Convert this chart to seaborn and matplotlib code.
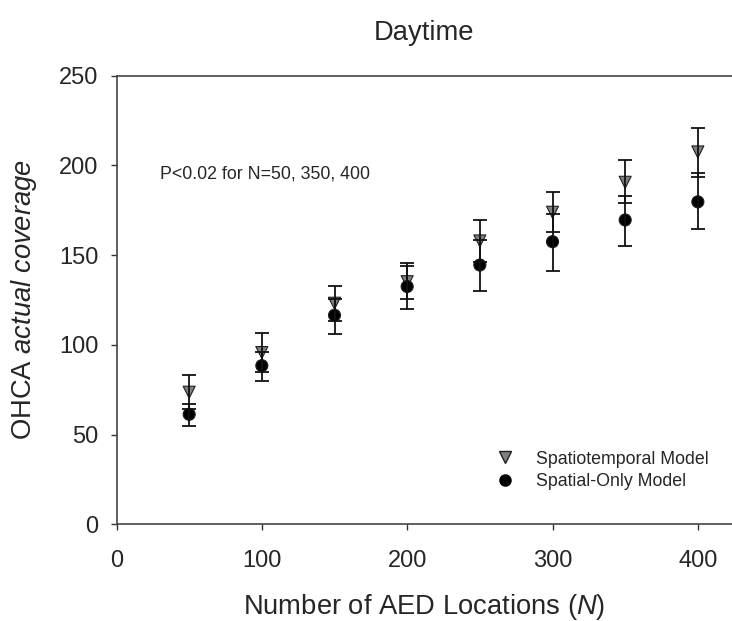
import numpy as np
import pandas as pd
import matplotlib
matplotlib.use("Agg")
import matplotlib.pyplot as plt
import seaborn as sns
from matplotlib.lines import Line2D

# ---- data ----
n_locations = [50, 100, 150, 200, 250, 300, 350, 400]
st_mean = [73.6, 95.7, 123.2, 135.2, 157.9, 173.9, 190.6, 207.5]
st_low = [64.4, 85.1, 113.3, 125.6, 146.4, 162.8, 179.3, 193.4]
st_high = [83.2, 106.7, 132.7, 145.8, 169.6, 185.4, 202.9, 221.1]
sp_mean = [61.3, 88.4, 116.5, 132.5, 144.5, 157.5, 169.6, 179.7]
sp_low = [54.8, 80.1, 105.9, 120.0, 130.0, 141.4, 155.1, 164.8]
sp_high = [66.9, 96.2, 125.4, 144.0, 158.5, 172.8, 183.2, 195.7]
series_names = ["Spatiotemporal Model", "Spatial-Only Model"]
x_ticks = [0, 100, 200, 300, 400]
y_ticks = [0, 50, 100, 150, 200, 250]

sns.set_style("white")
plt.rcParams["font.family"] = ["Liberation Sans", "DejaVu Sans"]
plt.rcParams["mathtext.fontset"] = "custom"
plt.rcParams["mathtext.rm"] = "Liberation Sans"
plt.rcParams["mathtext.it"] = "Liberation Sans:italic"

fig = plt.figure(figsize=(7.32, 6.21), dpi=100)
ax = fig.add_axes([116.5 / 732, (621 - 524.3) / 621, (732 - 116.5) / 732, (524.3 - 75.7) / 621])

df = pd.DataFrame({
    "N": n_locations * 2,
    "value": st_mean + sp_mean,
    "model": [series_names[0]] * len(n_locations) + [series_names[1]] * len(n_locations),
})

sns.scatterplot(data=df, x="N", y="value", hue="model", style="model",
                markers={series_names[0]: "v", series_names[1]: "o"},
                palette={series_names[0]: "#7f7f7f", series_names[1]: "#000000"},
                s=75, edgecolor="#202020", linewidth=0.8, ax=ax, legend=False, zorder=2)

for mean, lo, hi in [(st_mean, st_low, st_high), (sp_mean, sp_low, sp_high)]:
    mean = np.array(mean); lo = np.array(lo); hi = np.array(hi)
    ax.errorbar(n_locations, mean, yerr=[mean - lo, hi - mean], fmt="none",
                ecolor="#111111", elinewidth=1.3, capsize=4.8, capthick=1.3, zorder=3)

ax.set_xlim(0, 423.5)
ax.set_ylim(0, 250)
ax.set_xticks(x_ticks)
ax.set_yticks(y_ticks)
ax.tick_params(axis="both", direction="out", length=4.2, width=1.0, color="#333333",
               labelsize=17, bottom=True, left=True)
ax.tick_params(axis="x", pad=14.5)
ax.tick_params(axis="y", pad=9)
for side in ["left", "bottom", "top"]:
    ax.spines[side].set_color("#444444")
    ax.spines[side].set_linewidth(1.2)
ax.spines["right"].set_visible(False)

ax.set_xlabel(r"Number of AED Locations ($\mathit{N}$)", fontsize=19.7, labelpad=14.5)
ax.set_ylabel(r"OHCA $\mathit{actual\ coverage}$", fontsize=19.7, labelpad=14)
ax.set_title("Daytime", fontsize=19.7, pad=26)

ax.text(30, 195.2, "P<0.02 for N=50, 350, 400", fontsize=12.8, va="center", ha="left")

handles = [
    Line2D([], [], marker="v", color="none", markerfacecolor="#7f7f7f",
           markeredgecolor="#202020", markersize=8.5, label=series_names[0]),
    Line2D([], [], marker="o", color="none", markerfacecolor="#000000",
           markeredgecolor="#000000", markersize=8, label=series_names[1]),
]
ax.legend(handles=handles, loc="lower right", bbox_to_anchor=(0.9626, 0.0765), frameon=False,
          fontsize=12.8, handletextpad=0.74, labelspacing=0.3, borderaxespad=0, borderpad=0)

fig.savefig("out.png", dpi=100)
